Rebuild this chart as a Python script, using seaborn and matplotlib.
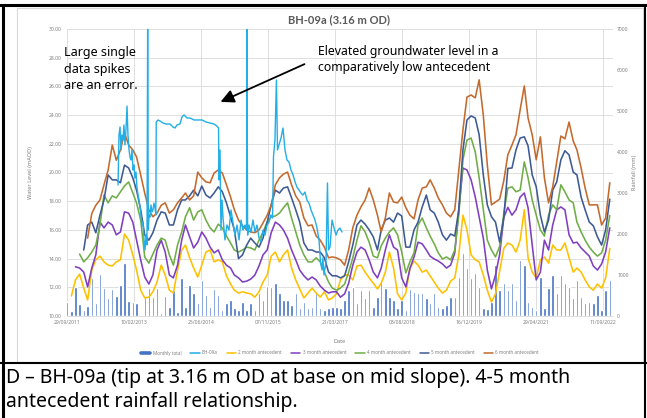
import numpy as np
import pandas as pd
import matplotlib
matplotlib.use("Agg")
import matplotlib.pyplot as plt
from matplotlib.lines import Line2D
from matplotlib.patches import Rectangle, FancyArrowPatch
from matplotlib.ticker import MultipleLocator, FuncFormatter
import seaborn as sns

# monthly rainfall (mm), first bar = Oct 2011
first_month = "2011-10-01"
monthly_total = [
    340, 120, 710, 290, 150, 240, 930, 320, 1020, 680, 440, 660, 490, 760, 1290, 370, 340, 320, 30, 460, 680, 460, 680, 70, 490, 220,
    630, 100, 930, 220, 760, 560, 320, 880, 510, 220, 660, 510, 150, 320, 390, 200, 150, 340, 150, 320, 150, 560, 390, 730, 710, 800, 560, 390,
    390, 270, 560, 200, 340, 200, 220, 560, 200, 150, 200, 220, 220, 200, 390, 630, 710, 320, 630, 440, 630, 220, 460, 880, 680, 460, 390,
    200, 390, 150, 660, 590, 560, 560, 440, 320, 560, 220, 200, 270, 460, 460, 950, 1540, 1170, 930, 1050, 710, 200, 170, 340, 1240, 630, 800,
    630, 800, 390, 1370, 1240, 340, 220, 150, 950, 200, 680, 1000, 560, 1000, 800, 710, 440, 880, 460, 320, 340, 320, 510, 150, 630, 880,
]

# antecedent totals (mm); each series starts once enough months are available
ante_2 = [
    490, 880, 1020, 680, 390, 1120, 1370, 1460, 1320, 1240, 1220, 1320, 1370, 2000, 1850, 1490, 1120, 630, 440, 460, 590, 830, 1240, 1000, 630,
    560, 1120, 1610, 1730, 1420, 1170, 950, 1240, 1560, 1610, 1320, 1370, 1320, 980, 780, 630, 560, 590, 560, 540, 460, 590, 830, 1000, 1460, 1560, 1320, 1490,
    1610, 1170, 880, 660, 440, 560, 680, 560, 460, 590, 390, 440, 540, 880, 1000, 1000, 880, 1220, 1240, 1070, 930, 800, 660, 800, 1070, 1560, 1170,
    540, 390, 560, 1170, 1340, 1240, 1070, 1120, 980, 830, 680, 560, 630, 850, 930, 1490, 2460, 2100, 1490, 1370, 1320, 1000, 630, 340, 540, 1100, 1650,
    1780, 1730, 1560, 1850, 2590, 1420, 1070, 930, 1370, 1440, 1290, 1730, 1610, 1610, 1780, 1420, 1070, 1170, 1070, 880, 710, 630, 780, 680, 930, 1650,
]
ante_3 = [
    1200, 1170, 1070, 710, 1170, 1490, 2290, 2150, 2290, 2220, 1980, 2050, 2540, 2510, 2290, 1850, 1370, 950, 780, 1000, 1610, 1850, 1560, 1000, 930,
    1240, 1850, 2220, 1930, 1660, 1800, 2050, 1900, 1680, 1540, 1610, 1370, 1240, 1170, 1000, 930, 830, 850, 900, 1000, 1220, 1490, 1610, 2030, 2290, 2220, 2100,
    1900, 1610, 1370, 1120, 980, 880, 950, 880, 730, 630, 560, 590, 590, 460, 540, 800, 1240, 1560, 1680, 1610, 1370, 1070, 930, 1170, 1610, 1980, 1680,
    1610, 930, 710, 1150, 1440, 1800, 1760, 1610, 1460, 1390, 1340, 1270, 1170, 1240, 1540, 2590, 3610, 3560, 3320, 2900, 2420, 1900, 1120, 660, 1000, 1500, 2400,
    2650, 2460, 2590, 2900, 3000, 2640, 1730, 880, 1070, 1850, 1610, 2220, 2590, 2660, 2590, 1980, 1780, 1800, 1660, 1560, 1460, 1220, 1120, 1270, 1560, 2150,
]
ante_4 = [
    1510, 1320, 1420, 1560, 1730, 2220, 2950, 2760, 2930, 2880, 3030, 3170, 3270, 3000, 2760, 2340, 1440, 1290, 1510, 1730, 1900, 1850, 1490, 1240,
    1730, 2050, 2420, 2640, 2340, 2540, 2590, 2340, 2150, 2050, 2240, 2150, 1950, 1780, 1610, 1560, 1610, 1680, 1660, 1610, 1850, 2050, 2290, 2420, 2440, 2510, 2640,
    2760, 2390, 2050, 1730, 1490, 1320, 1320, 1420, 1320, 1070, 830, 680, 630, 680, 780, 1070, 1420, 1850, 2200, 2050, 1800, 1460, 1420, 1710, 1900, 2050, 2150,
    1980, 1560, 1050, 1320, 1540, 2220, 2390, 2150, 1950, 1760, 1540, 1390, 1440, 1370, 1610, 2460, 3810, 4290, 4340, 4000, 3370, 2590, 1850, 1610, 1440, 1700, 2500,
    3120, 3150, 3030, 3070, 3760, 3370, 2830, 2460, 2100, 1950, 2460, 2710, 2590, 3200, 3030, 2830, 2760, 2290, 2050, 1850, 1680, 1560, 1460, 1540, 1850, 2450,
]
ante_5 = [
    1610, 2220, 2290, 2030, 2460, 2830, 3440, 3320, 3320, 3250, 3680, 3610, 3370, 3070, 2590, 1980, 1850, 2030, 2340, 2540, 2510, 2220, 2220,
    2590, 2830, 2830, 2930, 3070, 2930, 3170, 2950, 2880, 3000, 3150, 3030, 2760, 2420, 2100, 1400, 1490, 1730, 1900, 1780, 1680, 1900, 2290, 2710, 3070, 3000, 3120,
    3150, 2880, 2590, 2290, 1780, 1610, 1610, 1560, 1560, 1420, 1070, 980, 980, 930, 980, 1320, 1730, 2220, 2340, 2240, 2100, 1930, 1610, 2100, 2340, 2390, 2290,
    2510, 2440, 1680, 1680, 2100, 2290, 2660, 2950, 2590, 2510, 2290, 1980, 1850, 2000, 1950, 2590, 4050, 4780, 4880, 4830, 4420, 3440, 2710, 2420, 2290, 1800, 2400,
    3600, 3610, 4050, 4340, 4370, 4150, 3440, 3150, 2460, 2050, 2340, 3070, 3270, 3810, 4030, 3930, 3510, 3440, 2900, 2590, 2290, 2200, 1930, 1730, 2100, 2850,
]
ante_6 = [
    1900, 2500, 2700, 2830, 3200, 3560, 4170, 3800, 4050, 4470, 4170, 4050, 3880, 3440, 3000, 2590, 2420, 2510, 2700, 2760, 2510, 2590,
    2760, 2880, 3000, 2830, 2930, 3510, 3370, 3270, 3250, 3490, 3560, 3490, 3200, 2900, 2590, 2340, 2200, 2100, 2050, 2030, 2100, 2270, 2460, 2700, 3200, 3370, 3460,
    3510, 3200, 2930, 2780, 2390, 2200, 2220, 1950, 1850, 1680, 1420, 1440, 1420, 1370, 1240, 1610, 2150, 2460, 2660, 2830, 3120, 2830, 2460, 2050, 2390, 3000, 2780,
    2760, 2900, 2640, 2460, 2370, 2830, 3120, 3150, 3320, 3120, 2880, 2710, 2510, 2420, 2590, 3560, 4540, 5340, 5390, 5320, 5760, 4900, 3680, 2710, 2780, 2850, 3300,
    3930, 4170, 4420, 5030, 5610, 4830, 4420, 3810, 4370, 3370, 2760, 3150, 3760, 4390, 4320, 4730, 4270, 4050, 3610, 3120, 2710, 2710, 2710, 2220, 2390, 3250,
]

# BH-09a logger record: days after 29/09/2011 and water level (mAOD)
bh_start = "2011-09-29"
bh_day = [
    381, 388, 396, 403, 410, 418, 425, 433, 440, 448,
    455, 463, 470, 478, 485, 493, 500, 507, 515, 522,
    530, 537, 545, 552, 560, 567, 575, 582, 590, 597,
    602, 607, 612, 619, 627, 634, 642, 649, 657, 663,
    666, 679, 694, 716, 739, 769, 791, 806, 821, 843,
    858, 873, 896, 918, 948, 978, 1008, 1037, 1067, 1097,
    1119, 1131, 1134, 1142, 1149, 1157, 1164, 1179, 1194, 1209,
    1224, 1239, 1254, 1269, 1284, 1299, 1313, 1328, 1340, 1343,
    1348, 1358, 1373, 1388, 1403, 1418, 1433, 1448, 1463, 1478,
    1493, 1508, 1522, 1534, 1541, 1552, 1563, 1571, 1582, 1597,
    1612, 1627, 1642, 1657, 1672, 1687, 1702, 1716, 1731, 1746,
    1761, 1776, 1791, 1806, 1821, 1836, 1851, 1866, 1881, 1892,
    1903, 1910, 1918, 1933, 1944, 1952, 1963, 1978, 1993, 2008,
    2022, 2037, 2052,
]
bh_level = [
    19.13, 22.61, 23.17, 21.57, 22.61, 22.26, 23.31, 21.92, 22.96, 24.63,
    22.61, 21.57, 21.08, 20.87, 21.57, 20.17, 20.52, 19.62, 20.03, 18.99,
    18.43, 18.08, 17.60, 17.04, 16.34, 16.55, 15.30, 14.60, 15.64, 14.95,
    30.00, 15.99, 17.04, 16.90, 17.74, 17.25, 17.39, 17.87, 17.53, 17.04,
    23.52, 23.66, 23.59, 23.45, 23.38, 23.38, 23.17, 23.10, 23.31, 23.38,
    23.87, 24.01, 23.80, 23.80, 23.66, 23.66, 23.66, 23.52, 23.45, 23.38,
    23.24, 23.10, 19.48, 21.57, 15.99, 18.08, 16.90, 15.30, 16.34, 15.99,
    17.39, 16.48, 15.64, 16.34, 15.30, 16.69, 15.99, 16.34, 15.99, 30.00,
    15.64, 16.34, 15.85, 16.69, 15.85, 16.34, 15.44, 15.16, 15.99, 15.64,
    16.34, 16.55, 17.04, 16.83, 21.08, 22.26, 26.45, 21.57, 21.92, 22.40,
    23.10, 21.57, 20.87, 20.73, 20.17, 19.83, 19.34, 18.99, 18.78, 18.57,
    18.43, 18.64, 18.08, 17.87, 17.39, 17.04, 16.69, 16.13, 15.30, 13.76,
    13.21, 14.04, 12.86, 13.76, 19.27, 14.60, 14.81, 16.69, 16.13, 15.64,
    15.99, 16.13, 15.85,
]

date_ticks = ["29/09/2011", "10/02/2013", "25/06/2014", "07/11/2015", "21/03/2017",
              "03/08/2018", "16/12/2019", "29/04/2021", "11/09/2022"]
x_end = "2022-11-25"

ante_names = ["2 month antecedent", "3 month antecedent", "4 month antecedent",
              "5 month antecedent", "6 month antecedent"]
ante_colors = ["#FFC000", "#7F3FBF", "#70AD47", "#3E5A94", "#C46A2C"]
bar_color = "#4472C4"
bh_color = "#22AEE6"
grey_txt = "#7F7F7F"

months = pd.date_range(first_month, periods=len(monthly_total), freq="MS")
frames = []
for name, vals in zip(ante_names, [ante_2, ante_3, ante_4, ante_5, ante_6]):
    frames.append(pd.DataFrame({"date": months[len(months) - len(vals):],
                                "mm": vals, "series": name}))
ante_df = pd.concat(frames, ignore_index=True)
bh_df = pd.DataFrame({"date": pd.Timestamp(bh_start) + pd.to_timedelta(bh_day, unit="D"),
                      "level": bh_level})

sns.set_theme(style="white")
plt.rcParams["font.family"] = ["Noto Sans", "DejaVu Sans"]

fig = plt.figure(figsize=(6.47, 4.18), dpi=100)
W, H = 647, 418
ax = fig.add_axes([67 / W, 1 - 316 / H, (613 - 67) / W, (316 - 29) / H])

# rainfall axis (right)
ax.bar(months, monthly_total, width=18, color=bar_color, zorder=2)
sns.lineplot(data=ante_df, x="date", y="mm", hue="series", hue_order=ante_names,
             palette=ante_colors, lw=1.15, legend=False, ax=ax, zorder=3)
ax.set_ylim(0, 7000)
ax.set_xlim(pd.Timestamp(bh_start), pd.Timestamp(x_end))
ax.set_yticks(np.arange(0, 7001, 1000))
ax.yaxis.set_minor_locator(MultipleLocator(700))
ax.yaxis.remove_overlapping_locs = False
ax.grid(which="minor", axis="y", color="#D9D9D9", lw=0.6)
ax.grid(which="major", axis="y", visible=False)
tick_dates = pd.to_datetime(date_ticks, dayfirst=True)
ax.set_xticks(tick_dates)
ax.set_xticklabels(date_ticks)
ax.grid(which="major", axis="x", color="#D9D9D9", lw=0.6)
for s in ["top", "left", "right"]:
    ax.spines[s].set_visible(False)
ax.spines["bottom"].set_color("#D9D9D9")
ax.spines["bottom"].set_linewidth(0.6)
ax.set_axisbelow(True)

# water level axis (left)
bh = ax.twinx()
sns.lineplot(data=bh_df, x="date", y="level", color=bh_color, lw=1.0, ax=bh)
bh.set_ylim(10, 30)
bh.set_yticks(np.arange(10, 31, 2))
bh.yaxis.set_major_formatter(FuncFormatter(lambda v, p: f"{v:.2f}"))
for s in bh.spines.values():
    s.set_visible(False)

ax.yaxis.tick_right()
ax.yaxis.set_label_position("right")
bh.yaxis.tick_left()
bh.yaxis.set_label_position("left")

ax.tick_params(axis="x", which="both", length=0, labelsize=3.6, labelcolor=grey_txt, pad=3)
ax.tick_params(axis="y", which="both", length=0, labelsize=3.6, labelcolor=grey_txt, pad=3)
bh.tick_params(axis="y", length=0, labelsize=3.6, labelcolor=grey_txt, pad=4)

ax.set_xlabel("Date", fontsize=4, color=grey_txt)
ax.xaxis.set_label_coords(0.5, (316 - 339) / 287)
ax.set_ylabel("Rainfall (mm)", fontsize=4, color=grey_txt)
ax.yaxis.set_label_coords((632 - 67) / 546, 0.5)
bh.set_ylabel("Water Level (mAOD)", fontsize=4, color=grey_txt)
bh.yaxis.set_label_coords((33 - 67) / 546, 0.5)

handles = [Line2D([], [], color=bar_color, lw=2.6), Line2D([], [], color=bh_color, lw=1.1)]
handles += [Line2D([], [], color=c, lw=1.1) for c in ante_colors]
labels = ["Monthly total", "BH-09a"] + ante_names
fig.legend(handles, labels, loc="center", bbox_to_anchor=(340 / W, 1 - 353 / H), ncol=7,
           frameon=False, fontsize=3.3, labelcolor=grey_txt, handlelength=2,
           handletextpad=0.5, columnspacing=2)

fig.text(339 / W, 1 - 20 / H, "BH-09a (3.16 m OD)", ha="center", va="center",
         fontsize=8, fontweight="bold", color="#595959", family=["Lato", "DejaVu Sans"])
fig.text(64 / W, 1 - 46 / H, "Large single\ndata spikes\nare an error.", ha="left", va="top",
         fontsize=9, linespacing=1.35, color="black")
fig.text(318 / W, 1 - 45 / H, "Elevated groundwater level in a\ncomparatively low antecedent",
         ha="left", va="top", fontsize=8.8, linespacing=1.25, color="black")
fig.add_artist(FancyArrowPatch(
    (307 / W, 1 - 63 / H), (218 / W, 1 - 103 / H), transform=fig.transFigure,
    arrowstyle="-|>", mutation_scale=20, color="black", lw=1.3))

fig.text(6 / W, 1 - 378 / H, "D \u2013 BH-09a (tip at 3.16 m OD at base on mid slope). 4-5 month",
         ha="left", va="center", fontsize=14, color="black")
fig.text(6 / W, 1 - 402 / H, "antecedent rainfall relationship.",
         ha="left", va="center", fontsize=14, color="black")

# document frame
fig.add_artist(Rectangle((17 / W, 1 - 362 / H), (643 - 17) / W, (362 - 8) / H,
                         transform=fig.transFigure, fill=False, ec="#D9D9D9", lw=0.8))
for xs, ys, lw in [([0, 1], [1 - 5 / H, 1 - 5 / H], 2.2),
                   ([3 / W, 3 / W], [0, 1 - 5 / H], 2.2),
                   ([645 / W, 645 / W], [0, 1 - 5 / H], 1.5),
                   ([0, 1], [1 - 363 / H, 1 - 363 / H], 1.5)]:
    fig.add_artist(Line2D(xs, ys, transform=fig.transFigure, color="black", lw=lw))

fig.savefig("out.png", dpi=100)
